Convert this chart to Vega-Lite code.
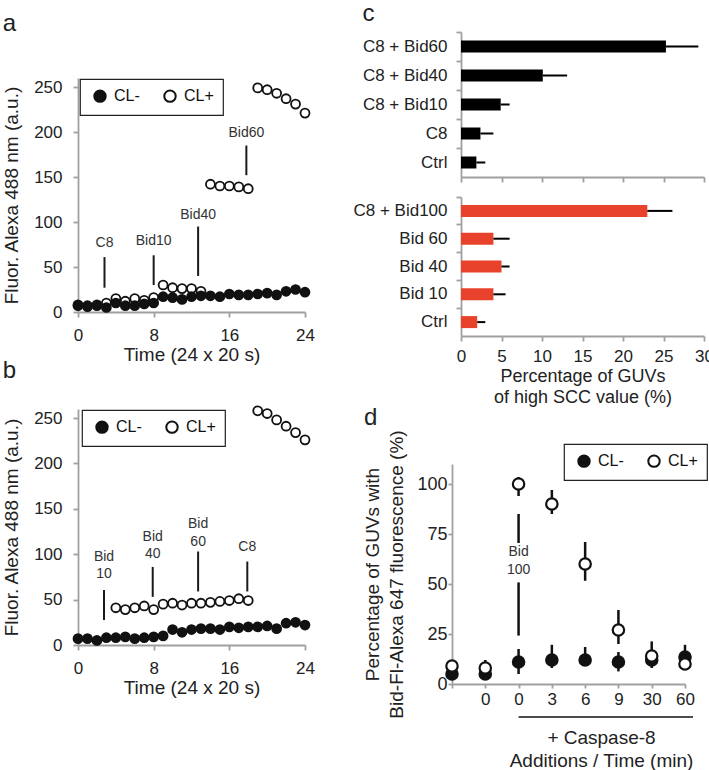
{
  "$schema": "https://vega.github.io/schema/vega-lite/v6.json",
  "padding": {"left": 2, "top": 2, "right": 0, "bottom": 0},
  "background": "white",
  "config": {
    "font": "Liberation Sans",
    "view": {"stroke": null},
    "axis": {
      "domainColor": "#a0a0a0", "domainWidth": 1.8, "tickColor": "#a0a0a0", "tickWidth": 1.8, "tickSize": 5,
      "labelColor": "#222222", "titleColor": "#222222", "labelFontSize": 17, "titleFontSize": 19,
      "titleFontWeight": "normal", "grid": false, "labelFlush": false, "labelPadding": 10, "labelOverlap": false
    },
    "legend": {
      "strokeColor": "#222222", "strokeWidth": 1.2, "padding": 9, "symbolSize": 130, "symbolStrokeWidth": 2,
      "symbolStrokeColor": "#111111", "labelFontSize": 16, "labelColor": "#111111", "labelOffset": 6,
      "columnPadding": 19, "symbolType": "circle", "fillColor": "#ffffff", "symbolOffset": 3
    },
    "title": {"fontSize": 24, "fontWeight": "normal", "anchor": "start", "frame": "bounds", "color": "#222222"}
  },
  "datasets": {
    "aPts": [
      {"t":0,"v":8,"s":"CL+"},{"t":1,"v":7,"s":"CL+"},{"t":2,"v":8,"s":"CL+"},{"t":3,"v":10,"s":"CL+"},{"t":4,"v":15,"s":"CL+"},
      {"t":5,"v":12,"s":"CL+"},{"t":6,"v":15,"s":"CL+"},{"t":7,"v":13,"s":"CL+"},{"t":8,"v":16,"s":"CL+"},{"t":9,"v":30,"s":"CL+"},
      {"t":10,"v":27,"s":"CL+"},{"t":11,"v":26,"s":"CL+"},{"t":12,"v":26,"s":"CL+"},{"t":13,"v":23,"s":"CL+"},{"t":14,"v":142,"s":"CL+"},
      {"t":15,"v":140,"s":"CL+"},{"t":16,"v":140,"s":"CL+"},{"t":17,"v":139,"s":"CL+"},{"t":18,"v":137,"s":"CL+"},{"t":19,"v":249,"s":"CL+"},
      {"t":20,"v":247,"s":"CL+"},{"t":21,"v":243,"s":"CL+"},{"t":22,"v":237,"s":"CL+"},{"t":23,"v":231,"s":"CL+"},{"t":24,"v":221,"s":"CL+"},
      {"t":0,"v":7,"s":"CL-"},{"t":1,"v":6,"s":"CL-"},{"t":2,"v":7,"s":"CL-"},{"t":3,"v":5,"s":"CL-"},{"t":4,"v":10,"s":"CL-"},
      {"t":5,"v":7,"s":"CL-"},{"t":6,"v":7,"s":"CL-"},{"t":7,"v":9,"s":"CL-"},{"t":8,"v":10,"s":"CL-"},{"t":9,"v":17,"s":"CL-"},
      {"t":10,"v":16,"s":"CL-"},{"t":11,"v":14,"s":"CL-"},{"t":12,"v":17,"s":"CL-"},{"t":13,"v":18,"s":"CL-"},{"t":14,"v":18,"s":"CL-"},
      {"t":15,"v":17,"s":"CL-"},{"t":16,"v":20,"s":"CL-"},{"t":17,"v":19,"s":"CL-"},{"t":18,"v":19,"s":"CL-"},{"t":19,"v":20,"s":"CL-"},
      {"t":20,"v":21,"s":"CL-"},{"t":21,"v":19,"s":"CL-"},{"t":22,"v":23,"s":"CL-"},{"t":23,"v":25,"s":"CL-"},{"t":24,"v":22,"s":"CL-"}
    ],
    "aRules": [
      {"x":2.8,"lo":27,"hi":61},{"x":8,"lo":30,"hi":63},{"x":12.7,"lo":40,"hi":95},{"x":17.8,"lo":152,"hi":185}
    ],
    "aLabels": [
      {"x":2.8,"y":77,"label":"C8"},{"x":8,"y":79,"label":"Bid10"},{"x":12.7,"y":108,"label":"Bid40"},{"x":17.8,"y":199,"label":"Bid60"}
    ],
    "bPts": [
      {"t":4,"v":41,"s":"CL+"},{"t":5,"v":39,"s":"CL+"},{"t":6,"v":41,"s":"CL+"},{"t":7,"v":43,"s":"CL+"},{"t":8,"v":39,"s":"CL+"},
      {"t":9,"v":45,"s":"CL+"},{"t":10,"v":46,"s":"CL+"},{"t":11,"v":44,"s":"CL+"},{"t":12,"v":46,"s":"CL+"},{"t":13,"v":46,"s":"CL+"},
      {"t":14,"v":47,"s":"CL+"},{"t":15,"v":48,"s":"CL+"},{"t":16,"v":49,"s":"CL+"},{"t":17,"v":51,"s":"CL+"},{"t":18,"v":49,"s":"CL+"},
      {"t":19,"v":258,"s":"CL+"},{"t":20,"v":255,"s":"CL+"},{"t":21,"v":248,"s":"CL+"},{"t":22,"v":241,"s":"CL+"},{"t":23,"v":234,"s":"CL+"},
      {"t":24,"v":226,"s":"CL+"},
      {"t":0,"v":7,"s":"CL-"},{"t":1,"v":7,"s":"CL-"},{"t":2,"v":5,"s":"CL-"},{"t":3,"v":8,"s":"CL-"},{"t":4,"v":8,"s":"CL-"},
      {"t":5,"v":9,"s":"CL-"},{"t":6,"v":7,"s":"CL-"},{"t":7,"v":8,"s":"CL-"},{"t":8,"v":9,"s":"CL-"},{"t":9,"v":10,"s":"CL-"},
      {"t":10,"v":17,"s":"CL-"},{"t":11,"v":14,"s":"CL-"},{"t":12,"v":17,"s":"CL-"},{"t":13,"v":18,"s":"CL-"},{"t":14,"v":18,"s":"CL-"},
      {"t":15,"v":17,"s":"CL-"},{"t":16,"v":20,"s":"CL-"},{"t":17,"v":19,"s":"CL-"},{"t":18,"v":20,"s":"CL-"},{"t":19,"v":20,"s":"CL-"},
      {"t":20,"v":21,"s":"CL-"},{"t":21,"v":18,"s":"CL-"},{"t":22,"v":24,"s":"CL-"},{"t":23,"v":25,"s":"CL-"},{"t":24,"v":22,"s":"CL-"}
    ],
    "bRules": [
      {"x":2.75,"lo":27.6,"hi":60.6},{"x":7.9,"lo":53,"hi":86},{"x":12.7,"lo":59,"hi":103},{"x":17.9,"lo":59,"hi":92}
    ],
    "bLabels": [
      {"x":2.75,"y":97,"label":"Bid"},{"x":2.75,"y":78,"label":"10"},
      {"x":7.9,"y":119,"label":"Bid"},{"x":7.9,"y":100,"label":"40"},
      {"x":12.7,"y":133,"label":"Bid"},{"x":12.7,"y":114,"label":"60"},
      {"x":17.9,"y":108,"label":"C8"}
    ],
    "cTop": [
      {"cat":"C8 + Bid60","v":25.3,"hi":29.3},{"cat":"C8 + Bid40","v":10.1,"hi":13.1},{"cat":"C8 + Bid10","v":4.9,"hi":6.0},
      {"cat":"C8 ","v":2.4,"hi":4.0},{"cat":"Ctrl","v":1.9,"hi":3.0}
    ],
    "cBot": [
      {"cat":"C8 + Bid100","v":23.0,"hi":26.1},{"cat":"Bid 60","v":4.0,"hi":6.0},{"cat":"Bid 40","v":5.0,"hi":6.0},
      {"cat":"Bid 10 ","v":4.0,"hi":5.5},{"cat":"Ctrl","v":2.0,"hi":3.0}
    ],
    "dPts": [
      {"p":0,"v":5,"s":"CL-"},{"p":1,"v":5,"s":"CL-"},{"p":2,"v":11,"s":"CL-"},{"p":3,"v":12,"s":"CL-"},
      {"p":4,"v":12,"s":"CL-"},{"p":5,"v":11,"s":"CL-"},{"p":6,"v":12,"s":"CL-"},{"p":7,"v":13.5,"s":"CL-"},
      {"p":0,"v":9,"s":"CL+"},{"p":1,"v":8,"s":"CL+"},{"p":2,"v":100,"s":"CL+"},{"p":3,"v":90,"s":"CL+"},
      {"p":4,"v":60,"s":"CL+"},{"p":5,"v":27,"s":"CL+"},{"p":6,"v":14,"s":"CL+"},{"p":7,"v":10,"s":"CL+"}
    ],
    "dErr": [
      {"p":2,"lo":5,"hi":17.5},{"p":3,"lo":8,"hi":19.6},{"p":4,"lo":9,"hi":18.5},{"p":5,"lo":6.3,"hi":16},
      {"p":6,"lo":9,"hi":15},{"p":7,"lo":8,"hi":19.6},
      {"p":1,"lo":4,"hi":12},{"p":2,"lo":94,"hi":103.5},{"p":3,"lo":85,"hi":97},{"p":4,"lo":51.6,"hi":71},
      {"p":5,"lo":20,"hi":37},{"p":6,"lo":8,"hi":21.3},{"p":7,"lo":7,"hi":13}
    ],
    "dRules": [{"p":2,"lo":24.2,"hi":50.8},{"p":2,"lo":70.5,"hi":85}],
    "dLabels": [{"p":2,"y":65.8,"label":"Bid"},{"p":2,"y":56.8,"label":"100"}]
  },
  "bounds": "flush",
  "spacing": 374,
  "resolve": {"scale": {"fill": "independent"}, "legend": {"fill": "independent"}},
  "hconcat": [
    {
      "bounds": "flush",
      "spacing": 40,
      "resolve": {"scale": {"fill": "independent"}, "legend": {"fill": "independent"}},
      "vconcat": [
        {"width": 1, "height": 6, "data": {"values": [{}]}, "mark": {"type": "point", "opacity": 0}},
        {
          "bounds": "flush",
          "spacing": 97,
          "resolve": {"scale": {"fill": "independent"}, "legend": {"fill": "independent"}},
          "vconcat": [
            {
              "width": 227, "height": 234,
              "title": {"text": "a", "offset": 42},
              "layer": [
                {"data": {"name": "aRules"}, "mark": {"type": "rule", "color": "#1a1a1a", "strokeWidth": 2},
                 "encoding": {
                   "x": {"field": "x", "type": "quantitative", "scale": {"domain": [0, 24]},
                         "axis": {"title": "Time (24 x 20 s)", "values": [0,4,8,12,16,20,24], "titlePadding": 2}},
                   "y": {"field": "lo", "type": "quantitative", "scale": {"domain": [0, 260]},
                         "axis": {"title": "Fluor. Alexa 488 nm (a.u.)", "values": [0,50,100,150,200,250], "labelPadding": 11, "titlePadding": 12}},
                   "y2": {"field": "hi"}}},
                {"data": {"name": "aLabels"}, "mark": {"type": "text", "fontSize": 14, "color": "#333333"},
                 "encoding": {"x": {"field": "x", "type": "quantitative"}, "y": {"field": "y", "type": "quantitative"}, "text": {"field": "label"}}},
                {"data": {"name": "aPts"}, "mark": {"type": "point", "shape": "circle", "size": 80, "stroke": "#111111", "strokeWidth": 1.8, "opacity": 1},
                 "encoding": {
                   "x": {"field": "t", "type": "quantitative"},
                   "y": {"field": "v", "type": "quantitative"},
                   "fill": {"field": "s", "type": "nominal", "scale": {"domain": ["CL-", "CL+"], "range": ["#111111", "#ffffff"]},
                            "legend": {"orient": "none", "legendX": 2, "legendY": 1, "direction": "horizontal", "title": null}}}}
              ]
            },
            {
              "width": 227, "height": 236,
              "title": {"text": "b", "offset": 20},
              "layer": [
                {"data": {"name": "bRules"}, "mark": {"type": "rule", "color": "#1a1a1a", "strokeWidth": 2},
                 "encoding": {
                   "x": {"field": "x", "type": "quantitative", "scale": {"domain": [0, 24]},
                         "axis": {"title": "Time (24 x 20 s)", "values": [0,4,8,12,16,20,24], "titlePadding": 2}},
                   "y": {"field": "lo", "type": "quantitative", "scale": {"domain": [0, 260]},
                         "axis": {"title": "Fluor. Alexa 488 nm (a.u.)", "values": [0,50,100,150,200,250], "labelPadding": 11, "titlePadding": 12}},
                   "y2": {"field": "hi"}}},
                {"data": {"name": "bLabels"}, "mark": {"type": "text", "fontSize": 14, "color": "#333333"},
                 "encoding": {"x": {"field": "x", "type": "quantitative"}, "y": {"field": "y", "type": "quantitative"}, "text": {"field": "label"}}},
                {"data": {"name": "bPts"}, "mark": {"type": "point", "shape": "circle", "size": 80, "stroke": "#111111", "strokeWidth": 1.8, "opacity": 1},
                 "encoding": {
                   "x": {"field": "t", "type": "quantitative"},
                   "y": {"field": "v", "type": "quantitative"},
                   "fill": {"field": "s", "type": "nominal", "scale": {"domain": ["CL-", "CL+"], "range": ["#111111", "#ffffff"]},
                            "legend": {"orient": "none", "legendX": 4, "legendY": 1, "direction": "horizontal", "title": null}}}}
              ]
            }
          ]
        }
      ]
    },
    {
      "bounds": "flush",
      "spacing": 432,
      "resolve": {"scale": {"fill": "independent"}, "legend": {"fill": "independent"}},
      "vconcat": [
        {
          "bounds": "flush",
          "spacing": 8,
          "hconcat": [
            {"width": 1, "height": 1, "data": {"values": [{}]}, "mark": {"type": "point", "opacity": 0}},
            {
              "bounds": "flush",
              "spacing": 20,
              "vconcat": [
                {
                  "width": 243, "height": 145,
                  "title": {"text": "c", "offset": 5},
                  "data": {"name": "cTop"},
                  "resolve": {"axis": {"y": "independent"}},
                  "layer": [
                    {"mark": {"type": "bar", "color": "#000000", "size": 12},
                     "encoding": {
                       "y": {"field": "cat", "type": "nominal", "sort": null, "scale": {"paddingInner": 0, "paddingOuter": 0},
                             "axis": {"title": null, "ticks": false, "domain": false, "labelPadding": 14, "orient": "left"}},
                       "x": {"field": "v", "type": "quantitative", "scale": {"domain": [0, 30]},
                             "axis": {"title": null, "values": [0,5,10,15,20,25,30], "labels": false}}}},
                    {"mark": {"type": "rule", "color": "#000000", "strokeWidth": 2},
                     "encoding": {
                       "y": {"field": "cat", "type": "nominal", "sort": null,
                             "axis": {"title": null, "labels": false, "bandPosition": 0, "orient": "left"}},
                       "x": {"field": "v", "type": "quantitative"},
                       "x2": {"field": "hi"}}}
                  ]
                },
                {
                  "width": 243, "height": 139,
                  "data": {"name": "cBot"},
                  "resolve": {"axis": {"y": "independent"}},
                  "layer": [
                    {"mark": {"type": "bar", "color": "#e8412c", "size": 12},
                     "encoding": {
                       "y": {"field": "cat", "type": "nominal", "sort": null, "scale": {"paddingInner": 0, "paddingOuter": 0},
                             "axis": {"title": null, "ticks": false, "domain": false, "labelPadding": 14, "orient": "left"}},
                       "x": {"field": "v", "type": "quantitative", "scale": {"domain": [0, 30]},
                             "axis": {"title": ["Percentage of GUVs", "of high SCC value (%)"], "values": [0,5,10,15,20,25,30],
                                      "labelPadding": 7, "titlePadding": 3, "titleFontSize": 18, "titleLineHeight": 21}}}},
                    {"mark": {"type": "rule", "color": "#000000", "strokeWidth": 2},
                     "encoding": {
                       "y": {"field": "cat", "type": "nominal", "sort": null,
                             "axis": {"title": null, "labels": false, "bandPosition": 0, "orient": "left"}},
                       "x": {"field": "v", "type": "quantitative"},
                       "x2": {"field": "hi"}}}
                  ]
                }
              ]
            }
          ]
        },
        {
          "width": 233, "height": 220,
          "title": {"text": "d", "offset": 0},
          "layer": [
            {"data": {"name": "dErr"}, "mark": {"type": "rule", "color": "#111111", "strokeWidth": 2.5},
             "encoding": {
               "x": {"field": "p", "type": "quantitative", "scale": {"domain": [0, 7]},
                     "axis": {"values": [0,1,2,3,4,5,6,7], "tickCount": 8, "labelExpr": "['','0','0','3','6','9','30','60'][datum.value]",
                              "labelOverlap": false, "labelBound": false,
                              "title": ["+ Caspase-8", "Additions / Time (min)"], "titleX": 149, "titleAlign": "center",
                              "titlePadding": 21, "titleLineHeight": 23, "labelPadding": 3, "tickSize": 4}},
               "y": {"field": "lo", "type": "quantitative", "scale": {"domain": [0, 110]},
                     "axis": {"values": [0,25,50,75,100], "title": ["Percentage of GUVs with", "Bid-Fl-Alexa 647 fluorescence (%)"],
                              "titleLineHeight": 24, "titlePadding": 10, "labelPadding": 1, "tickSize": 4, "labelFontSize": 18}},
               "y2": {"field": "hi"}}},
            {"data": {"name": "dRules"}, "mark": {"type": "rule", "color": "#111111", "strokeWidth": 2.5},
             "encoding": {"x": {"field": "p", "type": "quantitative"}, "y": {"field": "lo", "type": "quantitative"}, "y2": {"field": "hi"}}},
            {"data": {"name": "dLabels"}, "mark": {"type": "text", "fontSize": 14, "color": "#333333"},
             "encoding": {"x": {"field": "p", "type": "quantitative"}, "y": {"field": "y", "type": "quantitative"}, "text": {"field": "label"}}},
            {"data": {"values": [{}]}, "mark": {"type": "rule", "color": "#111111", "strokeWidth": 1.5},
             "encoding": {
               "x": {"datum": 2, "type": "quantitative",
                     "axis": {"values": [0,1,2,3,4,5,6,7], "tickCount": 8, "labelExpr": "['','0','0','3','6','9','30','60'][datum.value]",
                              "labelOverlap": false, "labelBound": false,
                              "title": ["+ Caspase-8", "Additions / Time (min)"], "titleX": 149, "titleAlign": "center",
                              "titlePadding": 21, "titleLineHeight": 23, "labelPadding": 3, "tickSize": 4}},
               "x2": {"datum": 7.24},
               "y": {"datum": -16.5, "type": "quantitative"}}},
            {"data": {"name": "dPts"}, "mark": {"type": "point", "shape": "circle", "size": 130, "stroke": "#111111", "strokeWidth": 2.2, "opacity": 1},
             "encoding": {
               "x": {"field": "p", "type": "quantitative"},
               "y": {"field": "v", "type": "quantitative"},
               "fill": {"field": "s", "type": "nominal", "scale": {"domain": ["CL-", "CL+"], "range": ["#111111", "#ffffff"]},
                        "legend": {"orient": "none", "legendX": 112, "legendY": -20, "direction": "horizontal", "title": null}}}}
          ]
        }
      ]
    }
  ]
}
